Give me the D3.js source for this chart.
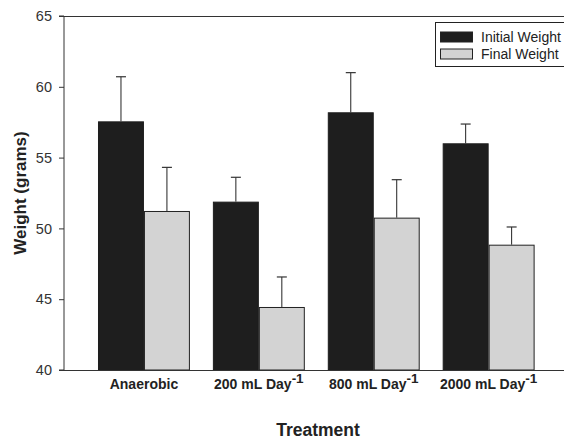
<!DOCTYPE html>
<html><head><meta charset="utf-8">
<script src="https://cdn.jsdelivr.net/npm/d3@7"></script>
<style>body{margin:0;background:#fff}svg{display:block}</style>
</head><body>
<svg id="c" width="564" height="439"></svg>
<script>
const categories = ["Anaerobic", "200 mL Day", "800 mL Day", "2000 mL Day"];
const superscripts = ["", "-1", "-1", "-1"];
const seriesNames = ["Initial Weight", "Final Weight"];
const initialWeight = [57.56, 51.89, 58.2, 56.01];
const initialErr = [3.15, 1.72, 2.8, 1.36];
const finalWeight = [51.23, 44.45, 50.76, 48.85];
const finalErr = [3.08, 2.12, 2.68, 1.25];
const yTicks = [40, 45, 50, 55, 60, 65];

(function () {
const svg = d3.select("#c");
const mLeft = 64, mRight = 564, mTop = 16, mBottom = 370;
const font = "Arial, 'Liberation Sans', sans-serif";

const y = d3.scaleLinear().domain([40, 65]).range([mBottom, mTop]);
const x0 = d3.scaleBand().domain(categories).range([86.5, 546.1]).paddingInner(0.2).paddingOuter(0.1);
const x1 = d3.scaleBand().domain(seriesNames).range([0, x0.bandwidth()]);
const colors = {"Initial Weight": "#1e1e1e", "Final Weight": "#d3d3d3"};

const rows = categories.map((c, i) => ({
  cat: c,
  vals: [
    {s: "Initial Weight", v: initialWeight[i], e: initialErr[i]},
    {s: "Final Weight", v: finalWeight[i], e: finalErr[i]}
  ]
}));

const g = svg.append("g");
rows.forEach(r => {
  r.vals.forEach(d => {
    const cx = x0(r.cat) + x1(d.s) + x1.bandwidth() / 2;
    g.append("line").attr("x1", cx).attr("x2", cx).attr("y1", y(d.v)).attr("y2", y(d.v + d.e))
      .attr("stroke", "#222").attr("stroke-width", 1);
    g.append("line").attr("x1", cx - 5).attr("x2", cx + 5).attr("y1", y(d.v + d.e)).attr("y2", y(d.v + d.e))
      .attr("stroke", "#333").attr("stroke-width", 1.2);
  });
});

rows.forEach(r => {
  r.vals.forEach(d => {
    g.append("rect")
      .attr("x", x0(r.cat) + x1(d.s) + 0.5)
      .attr("y", y(d.v) + 0.5)
      .attr("width", x1.bandwidth() - 1)
      .attr("height", y(40) - y(d.v) - 0.5)
      .attr("fill", colors[d.s])
      .attr("stroke", d.s === "Final Weight" ? "#222" : "#1e1e1e")
      .attr("stroke-width", 1);
  });
});

const yAxis = d3.axisLeft(y).tickValues(yTicks).tickSize(5).tickPadding(7);
const ya = svg.append("g").attr("transform", `translate(${mLeft},0)`).call(yAxis);
ya.select(".domain").attr("stroke", "#333").attr("d", `M-5,${mTop}H0V${mBottom}H-5`);
ya.selectAll(".tick line").attr("stroke", "#333");
ya.selectAll(".tick text").attr("font-family", font).attr("font-size", 14.5).attr("fill", "#333");

svg.append("line").attr("x1", mLeft).attr("x2", mRight).attr("y1", mTop + 0.5).attr("y2", mTop + 0.5).attr("stroke", "#333");
svg.append("line").attr("x1", mLeft).attr("x2", mRight).attr("y1", mBottom + 0.5).attr("y2", mBottom + 0.5).attr("stroke", "#333");

categories.forEach((c, i) => {
  const t = svg.append("text")
    .attr("x", x0(c) + x0.bandwidth() / 2).attr("y", 388.5)
    .attr("text-anchor", "middle")
    .attr("font-family", font).attr("font-weight", "bold").attr("font-size", 14).attr("fill", "#222");
  t.append("tspan").text(c);
  if (superscripts[i]) t.append("tspan").attr("dy", -6).attr("font-size", 13.5).text(superscripts[i]);
});

svg.append("text").attr("x", 318).attr("y", 435.5)
  .attr("text-anchor", "middle").attr("font-family", font).attr("font-weight", "bold").attr("font-size", 17.5).attr("fill", "#222")
  .text("Treatment");
svg.append("text").attr("transform", "translate(26,193) rotate(-90)")
  .attr("text-anchor", "middle").attr("font-family", font).attr("font-weight", "bold").attr("font-size", 17).attr("fill", "#222")
  .text("Weight (grams)");

const lg = svg.append("g");
lg.append("rect").attr("x", 435.5).attr("y", 22.5).attr("width", 140).attr("height", 44)
  .attr("fill", "#fff").attr("stroke", "#222");
seriesNames.forEach((s, i) => {
  lg.append("rect").attr("x", 440.5).attr("y", 32 + i * 17).attr("width", 32).attr("height", 10)
    .attr("fill", colors[s]).attr("stroke", "#222").attr("stroke-width", 1);
  lg.append("text").attr("x", 481).attr("y", 41.7 + i * 17)
    .attr("font-family", font).attr("font-size", 14).attr("fill", "#222").text(s);
});
})();
</script>
</body></html>
